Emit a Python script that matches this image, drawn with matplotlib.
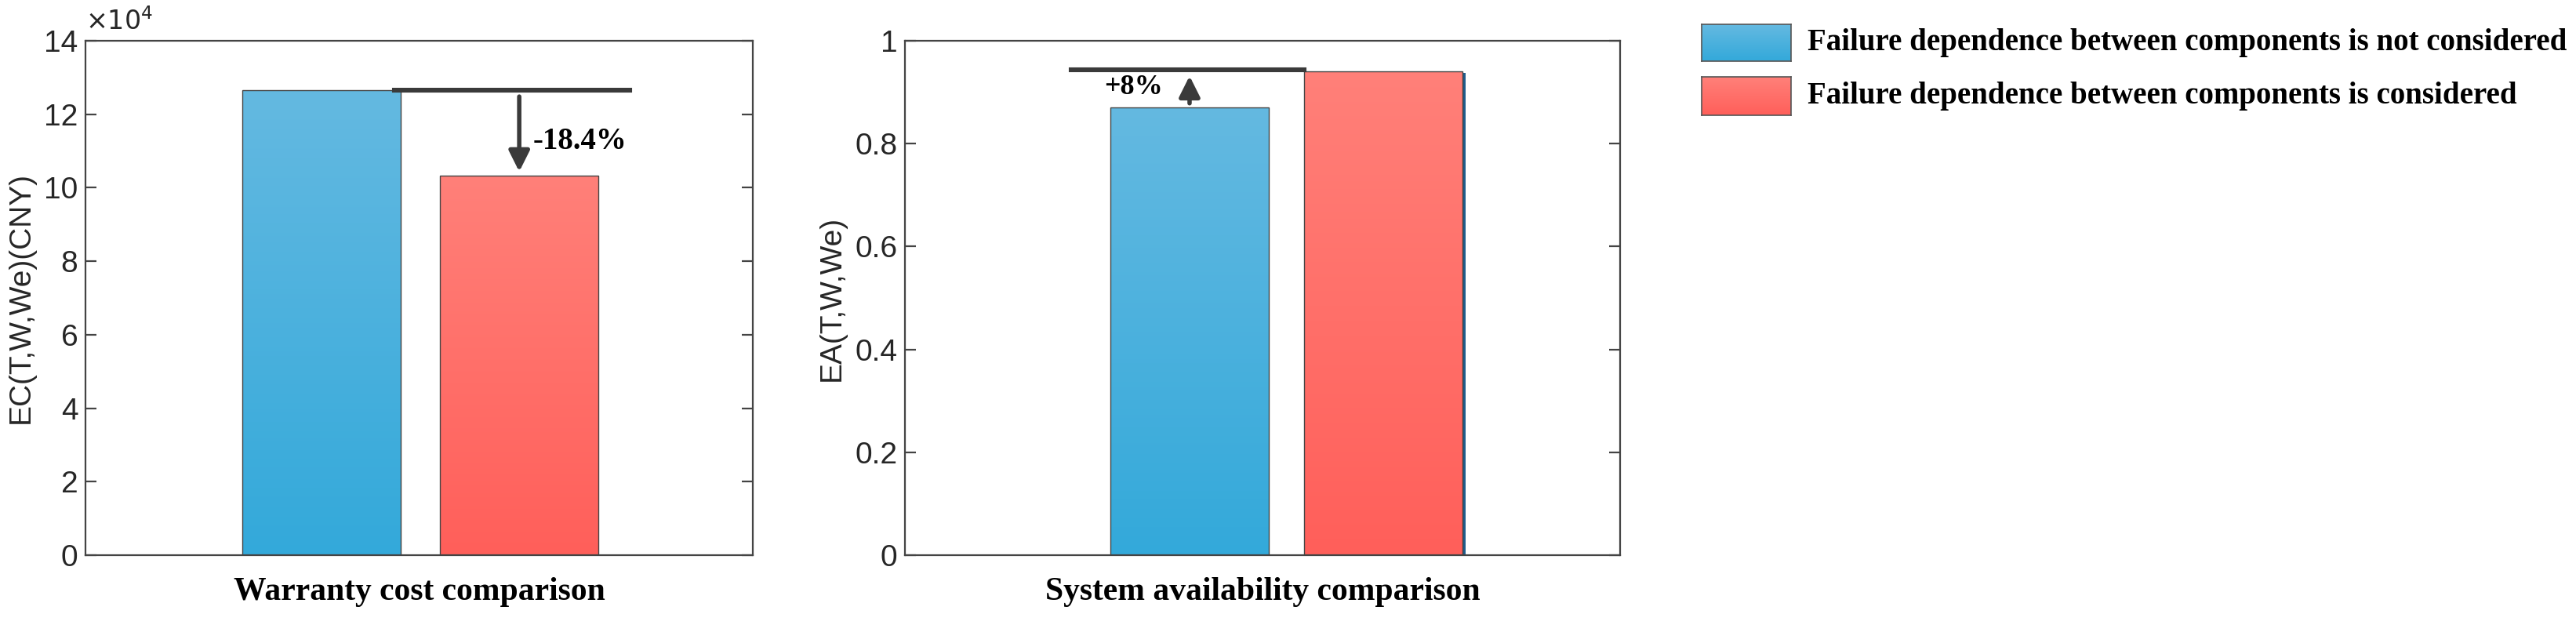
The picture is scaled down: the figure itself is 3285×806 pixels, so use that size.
import matplotlib
matplotlib.use("Agg")
import matplotlib.pyplot as plt
import numpy as np
from matplotlib.patches import Rectangle
from matplotlib.colors import LinearSegmentedColormap

series = ["Failure dependence between components is not considered",
          "Failure dependence between components is considered"]
cost_values = [12.65, 10.32]          # x 10^4 CNY
avail_values = [0.87, 0.94]
cost_change = "-18.4%"
avail_change = "+8%"
xlabels = ["Warranty cost comparison", "System availability comparison"]
ylabels = ["EC(T,W,We)(CNY)", "EA(T,W,We)"]

blue_top, blue_bot = "#64B9E1", "#33A9DA"
red_top, red_bot = "#FF8079", "#FF5F5A"

plt.rcParams['font.family'] = ['Liberation Sans', 'DejaVu Sans']
fig = plt.figure(figsize=(16.425, 4.03), dpi=200)
W, H = 3285, 806
def axpos(l, r, t, b):
    return [l / W, 1 - b / H, (r - l) / W, (b - t) / H]
ax1 = fig.add_axes(axpos(109, 960, 52, 708))
ax2 = fig.add_axes(axpos(1154, 2066, 52, 708))

def grad_bar(ax, x, w, h, top, bot):
    cmap = LinearSegmentedColormap.from_list("g", [bot, top])
    img = np.linspace(0, 1, 256).reshape(-1, 1)
    im = ax.imshow(img, cmap=cmap, origin="lower", aspect="auto",
                   extent=[x - w / 2, x + w / 2, 0, h], zorder=2)
    r = Rectangle((x - w / 2, 0), w, h, facecolor="none", edgecolor="#444444", lw=0.5, zorder=3)
    ax.add_patch(r)
    im.set_clip_path(r)

serif = ['Liberation Serif', 'DejaVu Serif']

# Left
c1 = [0.354, 0.650]; w1 = 0.237
grad_bar(ax1, c1[0], w1, cost_values[0], blue_top, blue_bot)
grad_bar(ax1, c1[1], w1, cost_values[1], red_top, red_bot)
ax1.set_xlim(0, 1); ax1.set_ylim(0, 14)
ax1.set_yticks(np.arange(0, 15, 2))
ax1.plot([0.463, 0.815], [cost_values[0], cost_values[0]], color="#3a3a3a", lw=2.2, zorder=4)
ax1.annotate("", xy=(0.65, cost_values[1]), xytext=(0.65, cost_values[0] - 0.05),
             arrowprops=dict(arrowstyle="-|>", color="#3a3a3a", lw=2, mutation_scale=20), zorder=5)
ax1.text(0.67, 11.25, cost_change, family=serif, fontweight="bold", fontsize=14, va="center")
ax1.text(0.0, 1.01, r"$\times10^4$", transform=ax1.transAxes, fontsize=12, color="#262626", va="bottom")

# Right
c2 = [0.398, 0.669]; w2 = 0.221
grad_bar(ax2, c2[0], w2, avail_values[0], blue_top, blue_bot)
ax2.add_patch(Rectangle((c2[1] - w2 / 2 + 0.004, 0), w2, avail_values[1] - 0.003,
                        facecolor="#1F5C8C", edgecolor="none", zorder=1.9))
grad_bar(ax2, c2[1], w2, avail_values[1], red_top, red_bot)
ax2.set_xlim(0, 1); ax2.set_ylim(0, 1)
ax2.set_yticks(np.arange(0, 1.01, 0.2))
ax2.set_yticklabels(["0", "0.2", "0.4", "0.6", "0.8", "1"])
ax2.plot([0.232, 0.558], [avail_values[1] + 0.003, avail_values[1] + 0.003], color="#3a3a3a", lw=2.2, zorder=4)
ax2.annotate("", xy=(0.398, avail_values[1]), xytext=(0.398, avail_values[0]),
             arrowprops=dict(arrowstyle="-|>", color="#3a3a3a", lw=2, mutation_scale=20), zorder=5)
ax2.text(0.32, 0.91, avail_change, family=serif, fontweight="bold", fontsize=13, ha="center", va="center")

for ax, xl, yl in [(ax1, xlabels[0], ylabels[0]), (ax2, xlabels[1], ylabels[1])]:
    ax.set_xticks([])
    ax.set_xlabel(xl, family=serif, fontweight="bold", fontsize=15, labelpad=10)
    ax.set_ylabel(yl, fontsize=14, color="#262626")
    ax.tick_params(axis="y", direction="in", right=True, labelsize=14, labelcolor="#262626",
                   length=5, color="#444444")
    for s in ax.spines.values():
        s.set_color("#444444"); s.set_linewidth(0.8)

# Legend
for i, (top, bot) in enumerate([(blue_top, blue_bot), (red_top, red_bot)]):
    t, b = [31, 98][i], [78, 147][i]
    lax = fig.add_axes(axpos(2170, 2284, t, b))
    cmap = LinearSegmentedColormap.from_list("g", [bot, top])
    lax.imshow(np.linspace(0, 1, 64).reshape(-1, 1), cmap=cmap, origin="lower", aspect="auto")
    lax.set_xticks([]); lax.set_yticks([])
    for s in lax.spines.values():
        s.set_color("#555555"); s.set_linewidth(0.6)
    fig.text(2305 / W, 1 - (t + b) / 2 / H, series[i], family=serif, fontweight="bold",
             fontsize=14, va="center")

fig.savefig("out.png", dpi=200)
